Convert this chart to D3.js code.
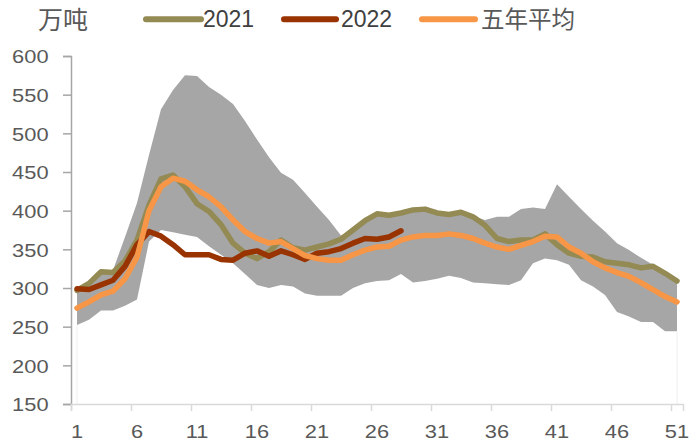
<!DOCTYPE html>
<html>
<head>
<meta charset="utf-8">
<script src="https://cdn.jsdelivr.net/npm/d3@7"></script>
<style>
  body { margin: 0; background: #fff; }
  svg { display: block; }
</style>
</head>
<body>
<svg id="chart" width="691" height="443"></svg>
<script>
// Weekly data, weeks 1–51 (unit: 万吨)
const weeks = d3.range(1, 52);

// Five-year range (upper and lower bound)
const rangeMax = [300, 306, 322, 323, 366, 410, 472, 531, 556, 575,
                  574, 560, 550, 538, 516, 492, 469, 449, 440, 423,
                  405, 388, 368, 375, 387, 397, 395, 398, 402, 403,
                  398, 397, 399, 393, 388, 392, 392, 402, 404, 402,
                  434, 418, 402, 387, 373, 358, 349, 339, 330, 320, 310];
const rangeMin = [252, 259, 271, 271, 277, 285, 360, 375, 372, 369,
                  366, 354, 343, 332, 318, 304, 300, 304, 302, 293,
                  290, 290, 290, 300, 306, 309, 310, 318, 307, 309,
                  312, 316, 313, 307, 306, 305, 304, 310, 332, 338,
                  336, 330, 310, 302, 291, 269, 263, 256, 256, 244, 244];

const series2021 = [297, 306, 321, 320, 335, 362, 407, 441, 446, 431,
                    409, 399, 382, 358, 345, 338, 347, 362, 352, 349,
                    353, 357, 363, 375, 387, 396, 394, 397, 401, 402,
                    397, 395, 398, 392, 381, 364, 360, 362, 362, 370,
                    356, 345, 341, 340, 334, 332, 330, 326, 328, 319, 309];

const series2022 = [299, 298, 304, 310, 328, 356, 373, 367, 356, 343,
                    343, 343, 337, 336, 345, 348, 341, 348, 343, 337,
                    345, 347, 351, 358, 364, 363, 366, 374];

const avg5y = [274, 282, 291, 296, 312, 340, 400, 431, 442, 438,
               427, 418, 405, 388, 373, 364, 358, 360, 351, 342,
               338, 336, 336, 343, 349, 353, 354, 362, 366, 368,
               368, 370, 368, 364, 358, 353, 350, 355, 360, 367,
               366, 353, 345, 334, 326, 320, 315, 307, 298, 289, 282];

const xTickLabels = [1, 6, 11, 16, 21, 26, 31, 36, 41, 46, 51];
const yTicks = [150, 200, 250, 300, 350, 400, 450, 500, 550, 600];

const legendItems = [
  { name: "2021",     color: "#948A54" },
  { name: "2022",     color: "#993300" },
  { name: "五年平均", color: "#F79646" }
];

// ---- layout ----
const plot = { left: 71, right: 683, top: 56, bottom: 404 };
const svg = d3.select("#chart");

const x = d3.scaleLinear().domain([0.5, 51.5]).range([plot.left, plot.right]);
const y = d3.scaleLinear().domain([150, 600]).range([plot.bottom, plot.top]);

const latinFont = "'Liberation Sans', Arial, sans-serif";
const cjkFont = "'Noto Sans CJK SC', 'Noto Sans', sans-serif";

// ---- range band ----
const band = d3.area()
  .x((d, i) => x(weeks[i]))
  .y0((d, i) => y(rangeMin[i]))
  .y1((d, i) => y(rangeMax[i]));

svg.append("path")
  .datum(rangeMax)
  .attr("d", band)
  .attr("fill", "#A6A6A6");

// faint edges of the band's white base at the first and last week
[0, weeks.length - 1].forEach(i => {
  svg.append("line")
    .attr("x1", x(weeks[i])).attr("x2", x(weeks[i]))
    .attr("y1", y(rangeMin[i])).attr("y2", y(150))
    .attr("stroke", "#EEEEEE").attr("stroke-width", 1);
});

// ---- axes ----
const yAxis = d3.axisLeft(y).tickValues(yTicks).tickSize(8).tickPadding(0);
const gy = svg.append("g")
  .attr("transform", `translate(${plot.left},0)`)
  .call(yAxis);
gy.select(".domain").attr("stroke", "#A6A6A6").attr("stroke-width", 1.5);
gy.selectAll(".tick line").attr("stroke", "#A6A6A6").attr("stroke-width", 1.5);
gy.selectAll(".tick text")
  .attr("x", -22.5 / 1.18)
  .attr("dy", "0.36em")
  .attr("transform", "scale(1.18,1)")
  .attr("fill", "#595959")
  .style("font-family", latinFont)
  .style("font-size", "18.5px");

// bottom axis: tick marks between every five weeks
const xTickMarks = d3.range(0.5, 51, 5);
const gxMarks = svg.append("g")
  .attr("transform", `translate(0,${plot.bottom})`)
  .call(d3.axisBottom(x).tickValues(xTickMarks).tickSize(7).tickFormat(""));
gxMarks.select(".domain").attr("stroke", "#D9D9D9").attr("stroke-width", 1.5);
gxMarks.selectAll(".tick line").attr("stroke", "#D9D9D9").attr("stroke-width", 1.5);

// bottom axis labels centred on their weeks
const gxLabels = svg.append("g")
  .attr("transform", `translate(0,${plot.bottom})`)
  .call(d3.axisBottom(x).tickValues(xTickLabels).tickSize(0).tickFormat(d3.format("d")));
gxLabels.select(".domain").remove();
gxLabels.selectAll(".tick text")
  .attr("y", 34.5)
  .attr("dy", 0)
  .attr("transform", "scale(1.18,1)")
  .attr("fill", "#595959")
  .style("font-family", latinFont)
  .style("font-size", "18.5px");
gxLabels.selectAll(".tick").each(function(d) {
  d3.select(this).attr("transform", `translate(${x(d)},0)`);
});

// ---- lines ----
const lineGen = d3.line()
  .x((d, i) => x(weeks[i]))
  .y(d => y(d));

const seriesData = [series2021, series2022, avg5y];
seriesData.forEach((vals, k) => {
  svg.append("path")
    .datum(vals)
    .attr("d", lineGen)
    .attr("fill", "none")
    .attr("stroke", legendItems[k].color)
    .attr("stroke-width", 5.5)
    .attr("stroke-linejoin", "round")
    .attr("stroke-linecap", "round");
});

// ---- unit label and legend ----
svg.append("text")
  .attr("x", 38).attr("y", 29)
  .attr("fill", "#595959")
  .style("font-family", cjkFont)
  .style("font-size", "25px")
  .text("万吨");

const legendPos = [
  { x0: 146, x1: 201, tx: 203 },
  { x0: 284, x1: 336, tx: 341 },
  { x0: 422, x1: 475, tx: 481 }
];
legendItems.forEach((item, k) => {
  const p = legendPos[k];
  const g = svg.append("g");
  g.append("line")
    .attr("x1", p.x0).attr("x2", p.x1)
    .attr("y1", 19.3).attr("y2", 19.3)
    .attr("stroke", item.color)
    .attr("stroke-width", 6)
    .attr("stroke-linecap", "round");
  const isCjk = /[\u4e00-\u9fff]/.test(item.name);
  g.append("text")
    .attr("x", p.tx)
    .attr("y", isCjk ? 27.8 : 26.7)
    .attr("fill", isCjk ? "#595959" : "#404040")
    .style("font-family", isCjk ? cjkFont : latinFont)
    .style("font-size", isCjk ? "23.5px" : "23px")
    .text(item.name);
});
</script>
</body>
</html>
